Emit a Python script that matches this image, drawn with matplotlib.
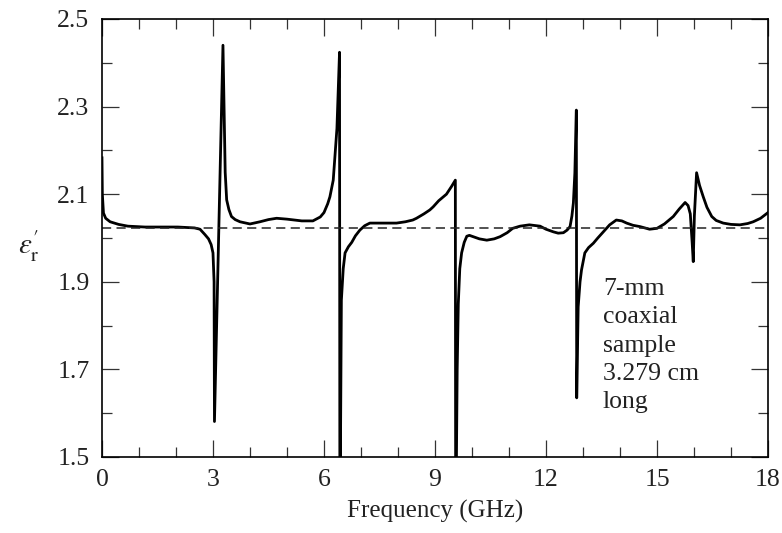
import numpy as np
import matplotlib
matplotlib.use('Agg')
import matplotlib.pyplot as plt
from matplotlib.ticker import MultipleLocator

matplotlib.rcParams['font.family'] = 'Liberation Serif'
matplotlib.rcParams['mathtext.fontset'] = 'stix'
matplotlib.rcParams['font.size'] = 18

freq = [0.00, 0.01, 0.04, 0.10, 0.22, 0.45, 0.70, 1.16, 1.60, 2.05,
        2.50, 2.65, 2.78, 2.88, 2.95, 3.00, 3.03, 3.04, 3.27, 3.33,
        3.37, 3.43, 3.50, 3.60, 3.73, 4.00, 4.27, 4.50, 4.72, 5.00,
        5.40, 5.70, 5.90, 6.00, 6.10, 6.16, 6.25, 6.35, 6.42, 6.43,
        6.47, 6.52, 6.57, 6.66, 6.75, 6.85, 6.97, 7.10, 7.24, 7.60,
        7.96, 8.20, 8.40, 8.50, 8.70, 8.86, 8.95, 9.10, 9.31, 9.45,
        9.55, 9.56, 9.60, 9.63, 9.67, 9.72, 9.79, 9.86, 9.93, 10.03,
        10.2, 10.4, 10.6, 10.76, 10.95, 11.1, 11.3, 11.55, 11.84, 12.0,
        12.2, 12.33, 12.47, 12.57, 12.65, 12.70, 12.74, 12.78, 12.82, 12.83,
        12.87, 12.92, 12.96, 13.05, 13.15, 13.28, 13.40, 13.55, 13.72, 13.90,
        14.05, 14.18, 14.35, 14.54, 14.8, 15.0, 15.2, 15.44, 15.60, 15.76,
        15.84, 15.90, 15.95, 15.98, 16.01, 16.07, 16.15, 16.25, 16.35, 16.48,
        16.6, 16.79, 17.0, 17.24, 17.45, 17.6, 17.8, 18.0]
eps = [2.183, 2.100, 2.057, 2.045, 2.037, 2.031, 2.027, 2.025, 2.025, 2.025,
       2.023, 2.020, 2.008, 1.998, 1.985, 1.966, 1.900, 1.581, 2.440, 2.150,
       2.087, 2.065, 2.049, 2.042, 2.037, 2.032, 2.037, 2.042, 2.045, 2.043,
       2.039, 2.039, 2.048, 2.058, 2.078, 2.094, 2.132, 2.250, 2.424, 1.300,
       1.858, 1.930, 1.966, 1.980, 1.990, 2.005, 2.018, 2.028, 2.034, 2.034,
       2.034, 2.037, 2.041, 2.045, 2.055, 2.064, 2.071, 2.085, 2.100, 2.118,
       2.132, 1.300, 1.700, 1.850, 1.930, 1.966, 1.990, 2.004, 2.006, 2.003,
       1.998, 1.995, 1.998, 2.003, 2.012, 2.022, 2.027, 2.030, 2.027, 2.020,
       2.014, 2.011, 2.012, 2.018, 2.026, 2.050, 2.080, 2.148, 2.292, 1.635,
       1.843, 1.900, 1.927, 1.966, 1.978, 1.988, 2.000, 2.014, 2.030, 2.041,
       2.039, 2.034, 2.029, 2.026, 2.020, 2.022, 2.032, 2.049, 2.066, 2.081,
       2.074, 2.055, 1.990, 1.946, 2.050, 2.149, 2.120, 2.094, 2.070, 2.049,
       2.040, 2.034, 2.031, 2.030, 2.033, 2.037, 2.045, 2.058]
eps_ref = 2.022

x_ticks = [0, 3, 6, 9, 12, 15, 18]
y_ticks = [1.5, 1.7, 1.9, 2.1, 2.3, 2.5]
note = "7-mm\ncoaxial\nsample\n3.279 cm\nlong"

fig = plt.figure(figsize=(7.82, 5.33), dpi=100)
ax = fig.add_axes([0.1304, 0.1426, 0.8517, 0.8218])

ax.plot(freq, eps, color='black', lw=2.0, solid_joinstyle='round')
ax.axhline(eps_ref, color='#222222', lw=1.1, ls=(0, (6, 3.5)))

ax.set_xlim(0, 18)
ax.set_ylim(1.5, 2.5)
ax.set_xticks(x_ticks)
ax.set_yticks(y_ticks)
ax.set_yticklabels(['%.1f' % t for t in y_ticks])
ax.xaxis.set_minor_locator(MultipleLocator(1))
ax.yaxis.set_minor_locator(MultipleLocator(0.1))
ax.tick_params(which='both', direction='in', top=True, right=True,
               color='#333333', width=0.9, labelsize=18.5, labelcolor='#222222')
ax.tick_params(which='major', length=12, pad=9)
ax.tick_params(which='minor', length=7)
for s in ax.spines.values():
    s.set_linewidth(1.2)

ax.set_xlabel('Frequency (GHz)', color='#222222', labelpad=6)
ax.set_ylabel(r"$\varepsilon^{\prime}_{\mathrm{r}}$", rotation=0,
              color='#222222', fontsize=21, va='center', ha='center')
ax.yaxis.set_label_coords(-0.11, 0.48)

ax.text(13.54, 1.908, note, ha='left', va='top', color='#222222',
        fontsize=18.5, linespacing=1.36)

fig.savefig('out.png', dpi=100)
